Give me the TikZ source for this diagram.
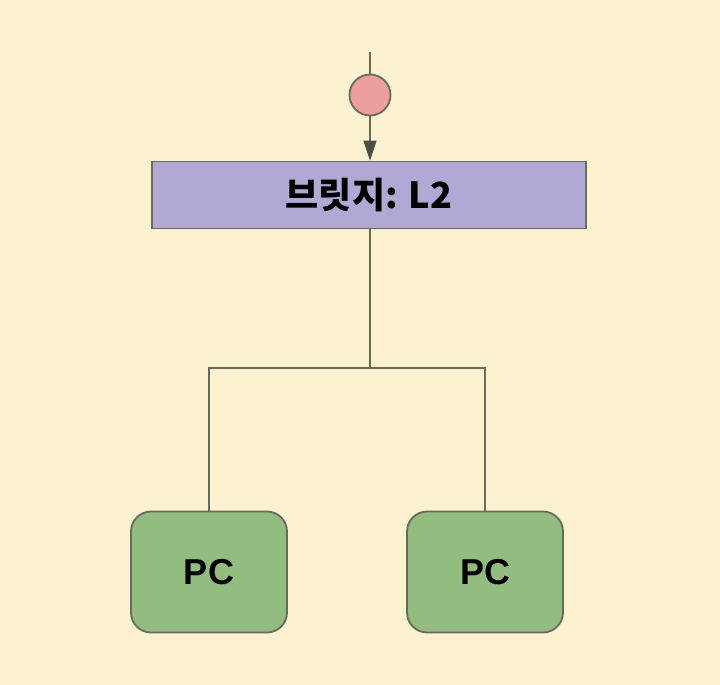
\documentclass[tikz,border=0pt]{standalone}
\usepackage{fontspec}
\setmainfont{Liberation Sans}
\newfontfamily\krfont{Noto Sans CJK KR}
\usetikzlibrary{arrows.meta}
\definecolor{bg}{RGB}{253,242,208}
\definecolor{linec}{RGB}{105,105,95}
\definecolor{arrc}{RGB}{75,80,70}
\definecolor{pinkc}{RGB}{236,160,158}
\definecolor{lavc}{RGB}{178,168,212}
\definecolor{greenc}{RGB}{147,188,128}
\tikzset{
  conn/.style={draw=linec, line width=1.3pt},
  pcbox/.style={draw=linec, line width=1.8pt, fill=greenc, rounded corners=20pt, minimum width=156pt, minimum height=121pt, inner sep=0pt, font=\fontsize{36}{36}\selectfont\bfseries},
  bridgebox/.style={draw=linec, line width=1.8pt, fill=lavc, minimum width=434pt, minimum height=67pt, inner sep=0pt, font=\fontsize{36}{36}\selectfont\krfont\bfseries},
  dot/.style={circle, draw=linec, line width=1.8pt, fill=pinkc, minimum size=41pt, inner sep=0pt}
}
\begin{document}
\begin{tikzpicture}[x=1pt,y=-1pt]
\fill[bg] (0,0) rectangle (720,685);
\useasboundingbox (0,0) rectangle (720,685);
\coordinate (top) at (370,52);
\node[dot] (c) at (370,95) {};
\node[bridgebox] (br) at (369,195) {브릿지: L2};
\coordinate (j) at (370,368);
\coordinate (jl) at (209,368);
\coordinate (jr) at (485,368);
\node[pcbox] (pc1) at (209,572) {PC};
\node[pcbox] (pc2) at (485,572) {PC};
\draw[conn] (top) -- (c.north);
\draw[conn, -{Triangle[length=20pt,width=13pt,color=arrc]}] (c.south) -- (br.north -| c.south);
\draw[conn] (br.south -| j) -- (j);
\draw[conn] (pc1.north) -- (jl) -- (jr) -- (pc2.north);
\end{tikzpicture}
\end{document}
